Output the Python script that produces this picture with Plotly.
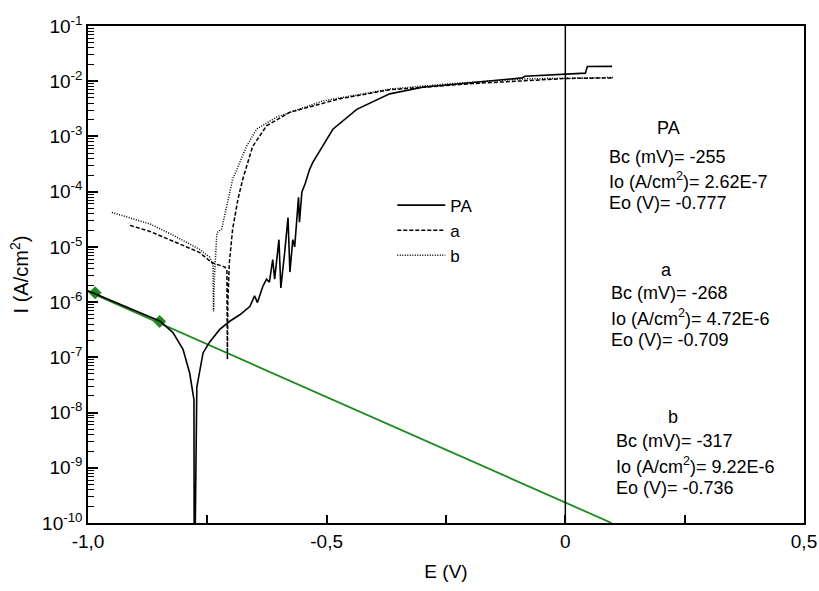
import plotly.graph_objects as go

# PA curve (E in V, I in A/cm2)
pa_E = [-1.0, -0.95, -0.90, -0.849, -0.822, -0.801, -0.787, -0.778, -0.7775, -0.777, -0.7765,
        -0.772, -0.759, -0.745, -0.724, -0.703, -0.682, -0.661, -0.651, -0.645, -0.634, -0.626,
        -0.620, -0.613, -0.609, -0.600, -0.596, -0.588, -0.581, -0.577, -0.571, -0.567, -0.559,
        -0.557, -0.552, -0.545, -0.536, -0.529, -0.508, -0.487, -0.437, -0.368, -0.299, -0.195,
        -0.09, -0.085, 0.0, 0.042, 0.046, 0.098]
pa_I = [1.6e-6, 1.05e-6, 6.8e-7, 4.5e-7, 2.8e-7, 1.4e-7, 5.2e-8, 1.7e-8, 1e-11, 1e-11, 1e-11,
        2.9e-8, 1.2e-7, 1.9e-7, 3.2e-7, 4.5e-7, 5.9e-7, 8.3e-7, 1.3e-6, 9.8e-7, 1.9e-6, 2.6e-6,
        2.3e-6, 5.9e-6, 2.6e-6, 1.35e-5, 1.8e-6, 7.9e-6, 3.4e-5, 3.5e-6, 1.35e-5, 1.0e-5, 7.9e-5,
        2.8e-5, 9.8e-5, 1.4e-4, 2.5e-4, 3.4e-4, 6.6e-4, 1.35e-3, 3.1e-3, 5.9e-3, 7.8e-3, 9.5e-3,
        1.15e-2, 1.23e-2, 1.35e-2, 1.4e-2, 1.85e-2, 1.86e-2]

# curve a (dashed)
a_E = [-0.912, -0.870, -0.820, -0.766, -0.741, -0.713, -0.709, -0.7085, -0.708, -0.707,
       -0.704, -0.697, -0.686, -0.676, -0.655, -0.626, -0.577, -0.473, -0.368, -0.2, 0.0, 0.1]
a_I = [2.45e-5, 1.9e-5, 1.25e-5, 7.9e-6, 5.2e-6, 4.3e-6, 3.7e-6, 1.0e-6, 9.1e-8, 1.0e-6,
       5.0e-6, 2.1e-5, 7.2e-5, 1.66e-4, 6.6e-4, 1.55e-3, 2.75e-3, 4.8e-3, 7.0e-3, 9.0e-3, 1.12e-2, 1.15e-2]

# curve b (dotted)
b_E = [-0.95, -0.870, -0.820, -0.766, -0.745, -0.741, -0.738, -0.7375, -0.737, -0.735,
       -0.730, -0.720, -0.697, -0.668, -0.647, -0.605, -0.508, -0.368, -0.25, -0.09, 0.086, 0.1]
b_I = [4.2e-5, 2.6e-5, 1.6e-5, 9.0e-6, 6.5e-6, 5.5e-6, 4.8e-6, 1.5e-6, 6.8e-7, 3.0e-6,
       1.8e-5, 2.1e-5, 1.66e-4, 6.6e-4, 1.35e-3, 2.24e-3, 4.4e-3, 7.2e-3, 8.9e-3, 1.1e-2, 1.17e-2, 1.17e-2]

# Tafel fit line (green) and its marked points
fit_E = [-1.0, 0.097]
fit_I = [1.55e-6, 1.0e-10]
mark_E = [-0.985, -0.85]
mark_I = [1.48e-6, 4.45e-7]

ytick_vals = [1e-10, 1e-9, 1e-8, 1e-7, 1e-6, 1e-5, 1e-4, 1e-3, 1e-2, 1e-1]
ytick_text = ["10<sup>-10</sup>", "10<sup>-9</sup>", "10<sup>-8</sup>", "10<sup>-7</sup>",
              "10<sup>-6</sup>", "10<sup>-5</sup>", "10<sup>-4</sup>", "10<sup>-3</sup>",
              "10<sup>-2</sup>", "10<sup>-1</sup>"]
xtick_vals = [-1.0, -0.5, 0.0, 0.5]
xtick_text = ["-1,0", "-0,5", "0", "0,5"]

FONT = "Liberation Sans, Arial, sans-serif"

y_minor = [m * d for d in ytick_vals[:-1] for m in range(2, 10)]

fig = go.Figure()
fig.add_trace(go.Scatter(x=fit_E, y=fit_I, mode="lines", line=dict(color="#1f8a1f", width=1.8),
                         showlegend=False))
fig.add_trace(go.Scatter(x=mark_E, y=mark_I, mode="markers",
                         marker=dict(symbol="diamond", size=10, color="#1f8a1f"), showlegend=False))
fig.add_trace(go.Scatter(x=pa_E, y=pa_I, mode="lines", name="PA",
                         line=dict(color="black", width=1.6)))
fig.add_trace(go.Scatter(x=a_E, y=a_I, mode="lines", name="a",
                         line=dict(color="black", width=1.5, dash="4px,2px")))
fig.add_trace(go.Scatter(x=b_E, y=b_I, mode="lines", name="b",
                         line=dict(color="black", width=1.5, dash="1px,1.5px")))

# vertical line at E = 0
fig.add_shape(type="line", xref="x", yref="paper", x0=0, x1=0, y0=0, y1=1,
              line=dict(color="black", width=1.5))

ann = [
    ("PA", 668, 128, "center"),
    ("Bc (mV)= -255", 607, 157, "left"),
    ("Io (A/cm<sup>2</sup>)= 2.62E-7", 607, 180, "left"),
    ("Eo (V)= -0.777", 607, 203, "left"),
    ("a", 666, 270, "center"),
    ("Bc (mV)= -268", 609, 293, "left"),
    ("Io (A/cm<sup>2</sup>)= 4.72E-6", 609, 317, "left"),
    ("Eo (V)= -0.709", 609, 340, "left"),
    ("b", 673, 417, "center"),
    ("Bc (mV)= -317", 614, 441, "left"),
    ("Io (A/cm<sup>2</sup>)= 9.22E-6", 614, 465, "left"),
    ("Eo (V)= -0.736", 614, 488, "left"),
]
L, T, PW, PH = 88, 26, 716, 497
for text, px, py, al in ann:
    fig.add_annotation(text=text, xref="paper", yref="paper",
                       x=(px - L) / PW, y=1 - (py - T) / PH,
                       xanchor=al, yanchor="middle", showarrow=False,
                       font=dict(family=FONT, size=18, color="black"))

fig.update_layout(
    width=819, height=591,
    margin=dict(l=L, r=819 - L - PW, t=T, b=591 - T - PH),
    paper_bgcolor="white", plot_bgcolor="white",
    font=dict(family=FONT, color="black"),
    legend=dict(x=0.425, y=0.675, xanchor="left", yanchor="top",
                bgcolor="rgba(0,0,0,0)", borderwidth=0, itemwidth=48,
                font=dict(family=FONT, size=17), tracegroupgap=0),
    xaxis=dict(range=[-1.0, 0.5], tickvals=xtick_vals, ticktext=xtick_text, automargin=False,
               ticks="inside", ticklen=8, tickwidth=1.5, tickcolor="black",
               minor=dict(tickvals=[-0.75, -0.25, 0.25], ticks="inside", ticklen=8,
                          tickwidth=1.5, tickcolor="black"),
               showline=True, linecolor="black", linewidth=1.5, mirror=True,
               showgrid=False, zeroline=False,
               tickfont=dict(family=FONT, size=19),
               title=dict(text="E (V)", font=dict(family=FONT, size=19), standoff=14)),
    yaxis=dict(type="log", range=[-10, -1], tickvals=ytick_vals, ticktext=ytick_text, automargin=False,
               ticks="inside", ticklen=10, tickwidth=1.5, tickcolor="black",
               minor=dict(tickvals=y_minor, ticks="inside", ticklen=6, tickwidth=1,
                          tickcolor="black", showgrid=False),
               showline=True, linecolor="black", linewidth=1.5, mirror=True,
               showgrid=False, zeroline=False,
               tickfont=dict(family=FONT, size=19),
               title=dict(text="I (A/cm<sup>2</sup>)", font=dict(family=FONT, size=20), standoff=8)),
)

fig.write_html("out.html", config={"displayModeBar": False},
               post_script="document.body.style.margin='0px';")
